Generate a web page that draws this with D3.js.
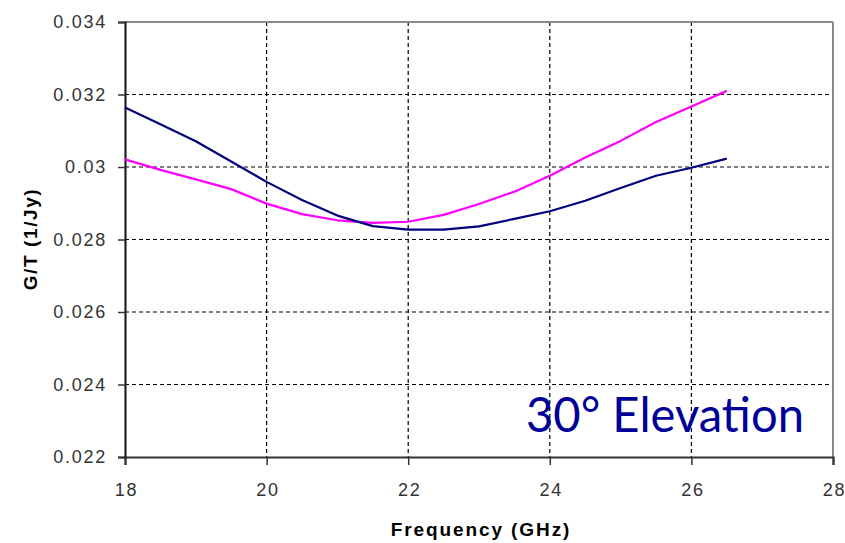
<!DOCTYPE html>
<html>
<head>
<meta charset="utf-8">
<script src="https://cdn.jsdelivr.net/npm/d3@7"></script>
<style>
  html, body { margin: 0; padding: 0; background: #fff; }
  svg { display: block; }
  .tick-label { font-family: "Liberation Sans", Arial, sans-serif; font-size: 18px; letter-spacing: 1.75px; fill: #333; }
  .axis-title { font-family: "Liberation Sans", Arial, sans-serif; font-size: 19px; font-weight: bold; fill: #000; }
</style>
</head>
<body>
<svg id="chart" width="845" height="543"></svg>
<script>
// Frequency sampling (GHz)
const frequency = [18, 18.5, 19, 19.5, 20, 20.5, 21, 21.5, 22, 22.5, 23, 23.5, 24, 24.5, 25, 25.5, 26, 26.5];
// G/T (1/Jy), navy series
const gtNavy = [0.03164, 0.03118, 0.03071, 0.03015, 0.02959, 0.02909, 0.02866, 0.02837, 0.02827,
                0.02827, 0.02836, 0.02857, 0.02878, 0.02907, 0.02942, 0.02976, 0.02998, 0.03023];
// G/T (1/Jy), magenta series
const gtMagenta = [0.03021, 0.02992, 0.02966, 0.02939, 0.02899, 0.02870, 0.02853, 0.02846, 0.02849,
                   0.02868, 0.02898, 0.02932, 0.02976, 0.03026, 0.03072, 0.03124, 0.03167, 0.03210];
// Axis ticks
const xTicks = [18, 20, 22, 24, 26, 28];
const yTicks = [0.022, 0.024, 0.026, 0.028, 0.03, 0.032, 0.034];
const yTickLabels = ["0.022", "0.024", "0.026", "0.028", "0.03", "0.032", "0.034"];

const svg = d3.select("#chart");
const plot = { left: 125, right: 833, top: 22, bottom: 457 };

const x = d3.scaleLinear().domain([18, 28]).range([plot.left, plot.right]);
const y = d3.scaleLinear().domain([0.022, 0.034]).range([plot.bottom, plot.top]);

// Dashed grid
const grid = svg.append("g");
grid.selectAll("line.h").data(yTicks.slice(1, -1)).join("line")
  .attr("x1", plot.left).attr("x2", plot.right)
  .attr("y1", d => y(d)).attr("y2", d => y(d))
  .attr("stroke", "#000").attr("stroke-width", 1.2).attr("stroke-dasharray", "4,3");
grid.selectAll("line.v").data(xTicks.slice(1, -1)).join("line")
  .attr("y1", plot.top).attr("y2", plot.bottom)
  .attr("x1", d => x(d)).attr("x2", d => x(d))
  .attr("stroke", "#000").attr("stroke-width", 1.2).attr("stroke-dasharray", "4,3");

// Top and right frame
svg.append("line").attr("x1", plot.left).attr("x2", plot.right).attr("y1", plot.top).attr("y2", plot.top)
  .attr("stroke", "#8a8a8a").attr("stroke-width", 2);
svg.append("line").attr("x1", plot.right).attr("x2", plot.right).attr("y1", plot.top).attr("y2", plot.bottom)
  .attr("stroke", "#8a8a8a").attr("stroke-width", 2);

// Axes
const xAxis = d3.axisBottom(x).tickValues(xTicks).tickSize(8).tickFormat(d3.format("d"));
const yAxis = d3.axisLeft(y).tickValues(yTicks).tickSize(7).tickFormat((d, i) => yTickLabels[i]);

const gx = svg.append("g").attr("transform", `translate(0,${plot.bottom})`).call(xAxis);
gx.select(".domain").attr("stroke", "#333").attr("stroke-width", 2.2);
gx.selectAll(".tick line").attr("stroke", "#333").attr("stroke-width", 1.5);
gx.selectAll(".tick text").attr("class", "tick-label").attr("y", 39).attr("dy", null).attr("dx", 1);

const gy = svg.append("g").attr("transform", `translate(${plot.left},0)`).call(yAxis);
gy.select(".domain").attr("stroke", "#222").attr("stroke-width", 2.2);
gy.selectAll(".tick line").attr("stroke", "#333").attr("stroke-width", 1.5);
gy.selectAll(".tick text").attr("class", "tick-label").attr("x", -18).attr("dy", "0.32em");

// Series lines
const line = d3.line().x((d, i) => x(frequency[i])).y(d => y(d));
svg.append("path").datum(gtMagenta).attr("d", line)
  .attr("fill", "none").attr("stroke", "#ff00ff").attr("stroke-width", 2.2).attr("stroke-linejoin", "round");
svg.append("path").datum(gtNavy).attr("d", line)
  .attr("fill", "none").attr("stroke", "#000080").attr("stroke-width", 2.2).attr("stroke-linejoin", "round");

// Axis titles
svg.append("text").attr("class", "axis-title")
  .attr("x", 481).attr("y", 536).attr("text-anchor", "middle").attr("letter-spacing", "1.9px")
  .text("Frequency (GHz)");
svg.append("text").attr("class", "axis-title")
  .attr("transform", "translate(37,239) rotate(-90)").attr("text-anchor", "middle").attr("letter-spacing", "1.6px")
  .text("G/T (1/Jy)");

// Annotation
svg.append("text")
  .attr("x", 526).attr("y", 432)
  .attr("font-family", "Lato, 'Open Sans', sans-serif").attr("font-size", 48)
  .attr("fill", "#000099")
  .attr("textLength", 278).attr("lengthAdjust", "spacingAndGlyphs")
  .text("30° Elevation");
</script>
</body>
</html>
